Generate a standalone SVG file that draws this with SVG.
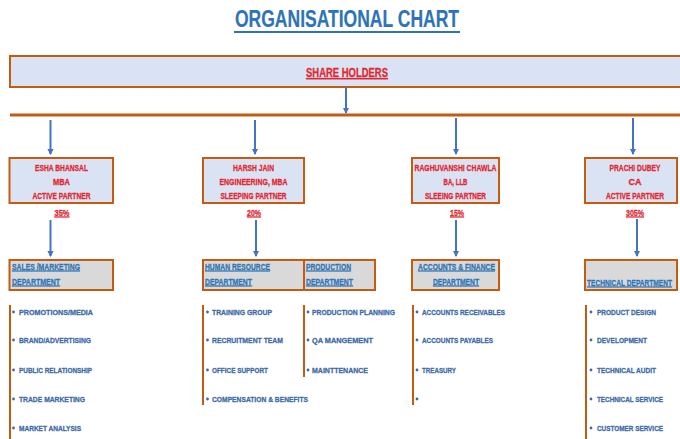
<svg xmlns="http://www.w3.org/2000/svg" width="680" height="439" viewBox="0 0 680 439">
<defs>
<marker id="ah" viewBox="0 0 6 6" refX="5" refY="3" markerWidth="3.2" markerHeight="3.2" orient="auto" markerUnits="strokeWidth">
<path d="M0,0 L6,3 L0,6 z" fill="#4472c4"/>
</marker>
<style>
text{font-family:"Liberation Sans",Arial,sans-serif;font-weight:bold}
.title{font-size:24px;fill:#2e74b5;stroke:#2e74b5;stroke-width:0.2}
.sh{font-size:12.5px;fill:#e3262f;stroke:#e3262f;stroke-width:0.3;text-decoration:underline}
.p{font-size:9.5px;fill:#e3262f;stroke:#e3262f;stroke-width:0.3;text-anchor:middle}
.pc{font-size:9.5px;fill:#e3262f;stroke:#e3262f;stroke-width:0.3;text-anchor:middle;text-decoration:underline}
.d{font-size:9.5px;fill:#2e75b6;stroke:#2e75b6;stroke-width:0.3;text-decoration:underline}
.li{font-size:8px;fill:#3d6aa6;stroke:#3d6aa6;stroke-width:0.3}
.bul{fill:#3d6aa6}
.pbox{fill:#dae3f3;stroke:#c55a11;stroke-width:2}
.dbox{fill:#d9d9d9;stroke:#c55a11;stroke-width:2}
.vl{stroke:#c55a11;stroke-width:2;fill:none}
.arr{stroke:#4472c4;stroke-width:2;fill:none;marker-end:url(#ah)}
</style>
</defs>
<rect width="680" height="439" fill="#ffffff"/>
<g id="title">
<text class="title" x="235" y="27" textLength="224" lengthAdjust="spacingAndGlyphs">ORGANISATIONAL CHART</text>
<line x1="234" y1="32" x2="460" y2="32" stroke="#2e74b5" stroke-width="2"/>
</g>
<g id="shareholders">
<rect class="pbox" x="10" y="56" width="675" height="31" stroke-width="2.5"/>
<text class="sh" x="306" y="77" textLength="82" lengthAdjust="spacingAndGlyphs">SHARE HOLDERS</text>
</g>
<g id="connectors">
<line x1="346" y1="87" x2="346" y2="113" class="arr"/>
<line x1="10" y1="115" x2="680" y2="115" stroke="#c55a11" stroke-width="3"/>
<line x1="50.5" y1="120" x2="50.5" y2="154" class="arr"/>
<line x1="255" y1="120" x2="255" y2="154" class="arr"/>
<line x1="456" y1="118" x2="456" y2="154" class="arr"/>
<line x1="633" y1="118" x2="633" y2="154" class="arr"/>
<line x1="50.5" y1="220" x2="50.5" y2="256" class="arr"/>
<line x1="256" y1="220" x2="256" y2="256" class="arr"/>
<line x1="456" y1="220" x2="456" y2="256" class="arr"/>
<line x1="637" y1="219" x2="637" y2="256" class="arr"/>
</g>
<g id="partner-esha">
<rect class="pbox" x="9.5" y="158" width="103.5" height="45"/>
<text class="p" x="61.5" y="170.5" textLength="53" lengthAdjust="spacingAndGlyphs">ESHA BHANSAL</text>
<text class="p" x="61.5" y="184.5" textLength="17" lengthAdjust="spacingAndGlyphs">MBA</text>
<text class="p" x="61.5" y="198.5" textLength="58" lengthAdjust="spacingAndGlyphs">ACTIVE PARTNER</text>
<text class="pc" x="62" y="215.5" textLength="15" lengthAdjust="spacingAndGlyphs">35%</text>
</g>
<g id="partner-harsh">
<rect class="pbox" x="203" y="158" width="101" height="45"/>
<text class="p" x="253.5" y="170.5" textLength="41" lengthAdjust="spacingAndGlyphs">HARSH JAIN</text>
<text class="p" x="253.5" y="184.5" textLength="68" lengthAdjust="spacingAndGlyphs">ENGINEERING, MBA</text>
<text class="p" x="253.5" y="198.5" textLength="66" lengthAdjust="spacingAndGlyphs">SLEEPING PARTNER</text>
<text class="pc" x="254" y="215.5" textLength="14" lengthAdjust="spacingAndGlyphs">20%</text>
</g>
<g id="partner-raghuvanshi">
<rect class="pbox" x="412" y="158" width="87" height="45"/>
<text class="p" x="455.5" y="170.5" textLength="82" lengthAdjust="spacingAndGlyphs">RAGHUVANSHI CHAWLA</text>
<text class="p" x="455.5" y="184.5" textLength="24" lengthAdjust="spacingAndGlyphs">BA, LLB</text>
<text class="p" x="455.5" y="198.5" textLength="61" lengthAdjust="spacingAndGlyphs">SLEEING PARTNER</text>
<text class="pc" x="457" y="215.5" textLength="14" lengthAdjust="spacingAndGlyphs">15%</text>
</g>
<g id="partner-prachi">
<rect class="pbox" x="585" y="158" width="92" height="45"/>
<text class="p" x="635" y="170.5" textLength="51" lengthAdjust="spacingAndGlyphs">PRACHI DUBEY</text>
<text class="p" x="635" y="184.5" textLength="13" lengthAdjust="spacingAndGlyphs">CA</text>
<text class="p" x="635" y="198.5" textLength="58" lengthAdjust="spacingAndGlyphs">ACTIVE PARTNER</text>
<text class="pc" x="635" y="215.5" textLength="18" lengthAdjust="spacingAndGlyphs">305%</text>
</g>
<g id="dept-sales">
<rect class="dbox" x="9.5" y="260" width="103.5" height="30"/>
<text class="d" x="12" y="269.5" textLength="68" lengthAdjust="spacingAndGlyphs">SALES /MARKETING</text>
<text class="d" x="12" y="284.5" textLength="48" lengthAdjust="spacingAndGlyphs">DEPARTMENT</text>
</g>
<g id="dept-hr">
<rect class="dbox" x="203" y="260" width="101" height="30"/>
<text class="d" x="205" y="269.5" textLength="65" lengthAdjust="spacingAndGlyphs">HUMAN RESOURCE</text>
<text class="d" x="205" y="284.5" textLength="47" lengthAdjust="spacingAndGlyphs">DEPARTMENT</text>
</g>
<g id="dept-production">
<rect class="dbox" x="304" y="260" width="71" height="30"/>
<text class="d" x="306" y="269.5" textLength="45" lengthAdjust="spacingAndGlyphs">PRODUCTION</text>
<text class="d" x="306" y="284.5" textLength="47" lengthAdjust="spacingAndGlyphs">DEPARTMENT</text>
</g>
<g id="dept-accounts">
<rect class="dbox" x="412" y="260" width="87" height="30"/>
<text class="d" x="418" y="269.5" textLength="77" lengthAdjust="spacingAndGlyphs">ACCOUNTS &amp; FINANCE</text>
<text class="d" x="433" y="284.5" textLength="46" lengthAdjust="spacingAndGlyphs">DEPARTMENT</text>
</g>
<g id="dept-technical">
<rect class="dbox" x="585" y="260" width="92" height="30"/>
<text class="d" x="587" y="285.5" textLength="85" lengthAdjust="spacingAndGlyphs">TECHNICAL DEPARTMENT</text>
</g>
<g id="list-sales">
<line class="vl" x1="10" y1="305" x2="10" y2="439"/>
<circle class="bul" cx="13.5" cy="312" r="1.4"/>
<circle class="bul" cx="13.5" cy="340" r="1.4"/>
<circle class="bul" cx="13.5" cy="370" r="1.4"/>
<circle class="bul" cx="13.5" cy="399" r="1.4"/>
<circle class="bul" cx="13.5" cy="428" r="1.4"/>
<text class="li" x="19" y="315" textLength="74" lengthAdjust="spacingAndGlyphs">PROMOTIONS/MEDIA</text>
<text class="li" x="19" y="343" textLength="72" lengthAdjust="spacingAndGlyphs">BRAND/ADVERTISING</text>
<text class="li" x="19" y="373" textLength="73" lengthAdjust="spacingAndGlyphs">PUBLIC RELATIONSHIP</text>
<text class="li" x="19" y="402" textLength="66" lengthAdjust="spacingAndGlyphs">TRADE MARKETING</text>
<text class="li" x="19" y="431" textLength="62" lengthAdjust="spacingAndGlyphs">MARKET ANALYSIS</text>
</g>
<g id="list-hr">
<line class="vl" x1="203" y1="305" x2="203" y2="405"/>
<circle class="bul" cx="207.5" cy="312" r="1.4"/>
<circle class="bul" cx="207.5" cy="340" r="1.4"/>
<circle class="bul" cx="207.5" cy="370" r="1.4"/>
<circle class="bul" cx="207.5" cy="399" r="1.4"/>
<text class="li" x="212" y="315" textLength="60" lengthAdjust="spacingAndGlyphs">TRAINING GROUP</text>
<text class="li" x="212" y="343" textLength="71" lengthAdjust="spacingAndGlyphs">RECRUITMENT TEAM</text>
<text class="li" x="212" y="373" textLength="56" lengthAdjust="spacingAndGlyphs">OFFICE SUPPORT</text>
<text class="li" x="212" y="402" textLength="96" lengthAdjust="spacingAndGlyphs">COMPENSATION &amp; BENEFITS</text>
</g>
<g id="list-production">
<line class="vl" x1="304" y1="305" x2="304" y2="377"/>
<circle class="bul" cx="308" cy="312" r="1.4"/>
<circle class="bul" cx="308" cy="340" r="1.4"/>
<circle class="bul" cx="308" cy="370" r="1.4"/>
<text class="li" x="312" y="315" textLength="83" lengthAdjust="spacingAndGlyphs">PRODUCTION PLANNING</text>
<text class="li" x="312" y="343" textLength="61" lengthAdjust="spacingAndGlyphs">QA MANGEMENT</text>
<text class="li" x="312" y="373" textLength="56" lengthAdjust="spacingAndGlyphs">MAINTTENANCE</text>
</g>
<g id="list-accounts">
<line class="vl" x1="413" y1="305" x2="413" y2="405"/>
<circle class="bul" cx="417" cy="312" r="1.4"/>
<circle class="bul" cx="417" cy="340" r="1.4"/>
<circle class="bul" cx="417" cy="370" r="1.4"/>
<circle class="bul" cx="417" cy="399" r="1.4"/>
<text class="li" x="422" y="315" textLength="83" lengthAdjust="spacingAndGlyphs">ACCOUNTS RECEIVABLES</text>
<text class="li" x="422" y="343" textLength="71" lengthAdjust="spacingAndGlyphs">ACCOUNTS PAYABLES</text>
<text class="li" x="422" y="373" textLength="34" lengthAdjust="spacingAndGlyphs">TREASURY</text>
</g>
<g id="list-technical">
<line class="vl" x1="586" y1="305" x2="586" y2="439"/>
<circle class="bul" cx="591" cy="312" r="1.4"/>
<circle class="bul" cx="591" cy="340" r="1.4"/>
<circle class="bul" cx="591" cy="370" r="1.4"/>
<circle class="bul" cx="591" cy="399" r="1.4"/>
<circle class="bul" cx="591" cy="428" r="1.4"/>
<text class="li" x="597" y="315" textLength="59" lengthAdjust="spacingAndGlyphs">PRODUCT DESIGN</text>
<text class="li" x="597" y="343" textLength="50" lengthAdjust="spacingAndGlyphs">DEVELOPMENT</text>
<text class="li" x="597" y="373" textLength="59" lengthAdjust="spacingAndGlyphs">TECHNICAL AUDIT</text>
<text class="li" x="597" y="402" textLength="66" lengthAdjust="spacingAndGlyphs">TECHNICAL SERVICE</text>
<text class="li" x="597" y="431" textLength="66" lengthAdjust="spacingAndGlyphs">CUSTOMER SERVICE</text>
</g>
</svg>
